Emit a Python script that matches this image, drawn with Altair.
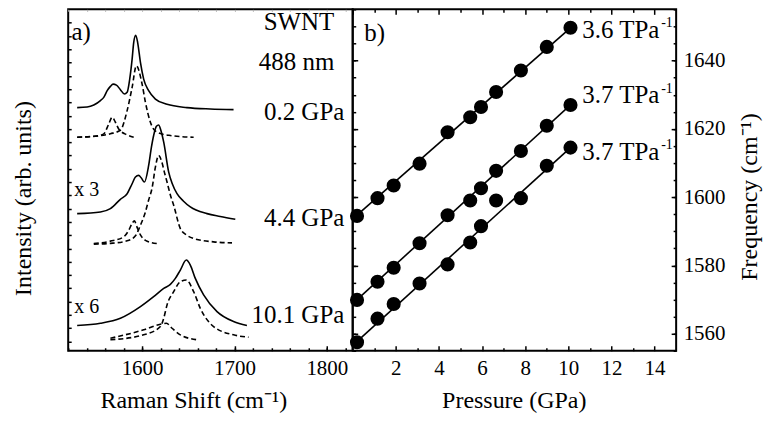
import altair as alt
import pandas as pd

FONT = "Liberation Serif"

# ---------------- Panel a: Raman spectra (x: Raman shift cm-1, y: intensity, stacked) ----------------
s02_x = [1529.7, 1540.5, 1547.7, 1554.9, 1558.5, 1562.2, 1565.7, 1568.6, 1572.2, 1576.5, 1580.9, 1583.8,
         1586.6, 1589.2, 1590.9, 1593.1, 1595.2, 1598.2, 1601.7, 1607.1, 1614.4, 1627.0, 1648.6, 1673.8, 1699.0]
s02_y = [244.0, 244.6, 246.6, 251.0, 254.3, 261.0, 265.3, 267.6, 266.6, 262.0, 257.6, 259.3,
         272.6, 292.6, 309.3, 316.6, 309.3, 289.3, 272.6, 261.0, 252.6, 247.3, 244.0, 242.6, 242.0]
d02a_x = [1529.7, 1547.7, 1565.7, 1576.5, 1583.8, 1589.2, 1593.8, 1600.0, 1603.6, 1609.0, 1616.2, 1630.6, 1655.8]
d02a_y = [214.3, 215.3, 217.8, 221.3, 241.0, 264.3, 286.0, 267.6, 249.3, 229.3, 219.3, 216.0, 214.3]
d02b_x = [1529.7, 1549.5, 1558.5, 1563.9, 1567.6, 1571.1, 1574.7, 1583.8, 1590.9]
d02b_y = [214.3, 215.3, 217.6, 227.6, 234.3, 229.3, 222.6, 216.6, 214.3]

s44_x = [1529.7, 1554.9, 1565.7, 1576.5, 1583.8, 1589.2, 1592.8, 1596.3, 1599.2, 1602.5, 1607.1, 1610.1, 1612.5,
         1615.5, 1617.9, 1620.3, 1623.4, 1628.8, 1632.8, 1637.8, 1644.6, 1652.2, 1670.3, 1684.6, 1700.9]
s44_y = [137.6, 139.3, 142.6, 152.0, 157.6, 167.6, 174.3, 176.0, 173.3, 169.3, 186.0, 204.3, 216.0,
         225.3, 226.6, 221.3, 209.3, 179.3, 167.3, 157.6, 150.3, 144.3, 137.6, 134.8, 132.0]
d44a_x = [1547.7, 1565.7, 1583.8, 1592.8, 1598.2, 1603.6, 1607.1, 1610.8, 1614.4, 1617.9, 1621.4, 1624.1,
          1627.0, 1630.6, 1634.2, 1641.4, 1647.9, 1655.8, 1677.4, 1697.3]
d44a_y = [107.0, 107.8, 110.3, 115.3, 126.0, 139.3, 151.3, 163.3, 184.3, 196.0, 189.3, 179.3,
          169.3, 156.3, 146.0, 122.6, 116.3, 112.6, 109.3, 108.3]
d44b_x = [1547.7, 1565.7, 1580.1, 1585.2, 1589.5, 1591.7, 1594.4, 1598.2, 1603.6, 1616.2]
d44b_y = [107.6, 110.0, 114.3, 120.3, 128.3, 130.3, 124.3, 116.3, 110.8, 107.6]

s101_x = [1529.7, 1554.9, 1576.5, 1598.2, 1612.5, 1623.4, 1630.6, 1636.0, 1641.4, 1647.9, 1652.2, 1657.6,
          1666.6, 1681.1, 1699.0, 1713.5]
s101_y = [25.3, 27.6, 32.6, 44.3, 54.3, 62.6, 66.6, 72.6, 81.0, 91.0, 86.0, 72.6,
          56.0, 39.3, 29.3, 25.3]
d101a_x = [1565.7, 1601.7, 1619.8, 1623.4, 1627.0, 1634.2, 1641.4, 1647.9, 1655.8, 1663.0, 1677.4, 1699.0, 1715.2]
d101a_y = [11.0, 16.0, 24.3, 32.6, 46.0, 59.3, 69.3, 71.0, 59.3, 42.6, 24.3, 16.0, 13.6]
d101b_x = [1565.7, 1601.7, 1619.8, 1626.3, 1632.4, 1641.4, 1659.5]
d101b_y = [12.6, 21.0, 26.6, 27.6, 22.6, 16.0, 11.0]

# ---------------- Panel b: frequency vs pressure ----------------
pressure = [0.2, 1.15, 1.9, 3.1, 4.4, 5.45, 5.95, 6.65, 7.8, 9.0, 10.1]
f_top = [1594.5, 1599.7, 1603.4, 1609.8, 1619.0, 1623.4, 1626.4, 1630.8, 1637.1, 1644.0, 1649.6]
f_mid = [1569.9, 1575.2, 1579.3, 1586.5, 1594.7, 1599.0, 1602.6, 1607.7, 1613.5, 1620.9, 1627.0]
f_bot = [1557.5, 1564.4, 1568.7, 1574.7, 1580.3, 1586.7, 1591.5, 1599.0, 1599.7, 1609.2, 1614.5]
fit_p = [0.0, 10.1]
fit_top = [1593.6, 1649.6]
fit_mid = [1568.8, 1627.0]
fit_bot = [1556.6, 1614.5]
slope_labels = ["3.6 TPa", "3.7 TPa", "3.7 TPa"]

# tick / label values
a_xmajor = [1600, 1700, 1800]
b_xmajor = [2, 4, 6, 8, 10, 12, 14]
b_ymajor = [1560, 1580, 1600, 1620, 1640]

AX_DOM = [1520, 1828]
AY_DOM = [0, 342.6]
BX_DOM = [0, 15]
BY_DOM = [1555, 1655]
WA, WB, H = 285, 324, 342

one = pd.DataFrame({"k": [0]})

FONTKW = dict(labelFont=FONT, titleFont=FONT, labelFontSize=21, titleFontSize=24,
              titleFontWeight="normal", labelColor="black", titleColor="black")


def tick_axis(orient, values, size, color="black", width=1.5):
    return alt.Axis(orient=orient, values=values, labels=False, domain=False, grid=False, title=None,
                    ticks=True, tickSize={"expr": str(-size)}, tickColor=color, tickWidth=width)


def axis_layer(xdom, ydom, xaxis, yaxis):
    df = pd.DataFrame({"x": [sum(xdom) / 2], "y": [sum(ydom) / 2]})
    return alt.Chart(df).mark_point(opacity=0, size=1).encode(
        x=alt.X("x:Q", scale=alt.Scale(domain=xdom, nice=False, zero=False), axis=xaxis),
        y=alt.Y("y:Q", scale=alt.Scale(domain=ydom, nice=False, zero=False), axis=yaxis),
    )


def label(txt, px, py, size, align="left"):
    return alt.Chart(one).mark_text(text=txt, font=FONT, fontSize=size, align=align,
                                    baseline="alphabetic", color="black").encode(
        x=alt.value(px), y=alt.value(py))


def curves(pairs, dashed):
    rows = []
    for i, (xs, ys) in enumerate(pairs):
        for x, y in zip(xs, ys):
            rows.append({"x": x, "y": y, "s": i})
    df = pd.DataFrame(rows)
    kw = dict(color="black", strokeWidth=1.6, interpolate="monotone")
    if dashed:
        kw["strokeDash"] = [5, 3]
    return alt.Chart(df).mark_line(**kw).encode(
        x=alt.X("x:Q", scale=alt.Scale(domain=AX_DOM, nice=False, zero=False), axis=None),
        y=alt.Y("y:Q", scale=alt.Scale(domain=AY_DOM, nice=False, zero=False), axis=None),
        detail="s:N",
    )


# ---------- panel a ----------
a_minor_x = list(range(1520, 1821, 20))
a_left = [9.3 + 13.33 * k for k in range(25)]

a_ax1 = axis_layer(
    AX_DOM, AY_DOM,
    alt.Axis(orient="bottom", values=a_xmajor, format="d", domain=False, grid=False, ticks=True,
             tickSize={"expr": "-5"}, tickWidth=1.5, tickColor="black", labelPadding=12,
             title="Raman Shift (cm⁻¹)", titleX=125.3, titleY=57, titleAlign="center",
             titleBaseline="alphabetic", **FONTKW),
    alt.Axis(orient="left", values=a_left, labels=False, domain=False, grid=False, ticks=True,
             tickSize={"expr": "-3"}, tickWidth=1.5, tickColor="black",
             title="Intensity (arb. units)", titleX=-38.2, titleY=189, titleAngle=270,
             titleAlign="center", titleBaseline="alphabetic", **FONTKW),
)
a_ax2 = axis_layer(AX_DOM, AY_DOM, tick_axis("bottom", a_minor_x, 3), None)
a_ax3 = axis_layer(AX_DOM, AY_DOM, tick_axis("top", a_minor_x, 2, color="#b0b0b0", width=1), None)

solid = curves([(s02_x, s02_y), (s44_x, s44_y), (s101_x, s101_y)], False)
dashed = curves([(d02a_x, d02a_y), (d02b_x, d02b_y), (d44a_x, d44a_y), (d44b_x, d44b_y),
                 (d101a_x, d101a_y), (d101b_x, d101b_y)], True)

a_texts = [
    label("a)", 3.3, 31.0, 25),
    label("SWNT", 266.6, 20.8, 25, "right"),
    label("488 nm", 266.6, 60.6, 25, "right"),
    label("0.2 GPa", 276.6, 110.6, 25, "right"),
    label("4.4 GPa", 276.6, 217.3, 25, "right"),
    label("10.1 GPa", 276.6, 314.0, 25, "right"),
    label("x 3", 6.0, 187.3, 20),
    label("x 6", 6.0, 304.0, 20),
]

panel_a = alt.layer(a_ax1, a_ax2, a_ax3, dashed, solid, *a_texts).resolve_axis(
    x="independent", y="independent").properties(width=WA, height=H)

# ---------- panel b ----------
b_minor_x = list(range(1, 15, 2))
b_minor_y = list(range(1555, 1656, 5))

b_ax1 = axis_layer(
    BX_DOM, BY_DOM,
    alt.Axis(orient="bottom", values=b_xmajor, format="d", domain=False, grid=False, ticks=True,
             tickSize={"expr": "-5"}, tickWidth=1.5, tickColor="black", labelPadding=12,
             title="Pressure (GPa)", titleX=161.3, titleY=57, titleAlign="center",
             titleBaseline="alphabetic", **FONTKW),
    alt.Axis(orient="right", values=b_ymajor, format="d", domain=False, grid=False, ticks=True,
             tickSize={"expr": "-5"}, tickWidth=1.5, tickColor="black", labelPadding=12,
             title="Frequency (cm⁻¹)", titleX=80.8, titleY=187.5, titleAngle=270,
             titleAlign="center", titleBaseline="alphabetic", **FONTKW),
)
b_ax2 = axis_layer(BX_DOM, BY_DOM, tick_axis("bottom", b_minor_x, 3), tick_axis("right", b_minor_y, 3))
b_ax3 = axis_layer(BX_DOM, BY_DOM, tick_axis("top", [0] + b_xmajor, 5), tick_axis("left", b_ymajor, 5))
b_ax4 = axis_layer(BX_DOM, BY_DOM, tick_axis("top", b_minor_x, 3), tick_axis("left", b_minor_y, 3))

pts_rows, fit_rows = [], []
for name, fs in (("top", f_top), ("mid", f_mid), ("bot", f_bot)):
    for p, f in zip(pressure, fs):
        pts_rows.append({"p": p, "f": f, "s": name})
for name, fs in (("top", fit_top), ("mid", fit_mid), ("bot", fit_bot)):
    for p, f in zip(fit_p, fs):
        fit_rows.append({"p": p, "f": f, "s": name})

bx = alt.X("p:Q", scale=alt.Scale(domain=BX_DOM, nice=False, zero=False), axis=None)
by = alt.Y("f:Q", scale=alt.Scale(domain=BY_DOM, nice=False, zero=False), axis=None)

fits = alt.Chart(pd.DataFrame(fit_rows)).mark_line(color="black", strokeWidth=1.6, clip=True).encode(
    x=bx, y=by, detail="s:N")
points = alt.Chart(pd.DataFrame(pts_rows)).mark_point(
    filled=True, color="black", opacity=1, size=200, shape="circle").encode(x=bx, y=by)

b_texts = [
    label("b)", 11.6, 32.0, 25),
    label(slope_labels[0], 230, 28.3, 25),
    label("-1", 309, 17.6, 14),
    label(slope_labels[1], 230, 94.3, 25),
    label("-1", 309, 83.6, 14),
    label(slope_labels[2], 230, 150.9, 25),
    label("-1", 309, 140.2, 14),
]

panel_b = alt.layer(b_ax1, b_ax2, b_ax3, b_ax4, fits, points, *b_texts).resolve_axis(
    x="independent", y="independent").properties(width=WB, height=H)

chart = alt.hconcat(panel_a, panel_b, spacing=0, bounds="flush").properties(
    padding={"left": 1.3, "top": -1, "right": 0, "bottom": 0}
).configure_view(stroke="black", strokeWidth=2).configure_axis(
    labelFont=FONT, titleFont=FONT, tickColor="black"
).configure_text(font=FONT)

chart.save("out.html", embed_options={"renderer": "svg", "actions": False})
